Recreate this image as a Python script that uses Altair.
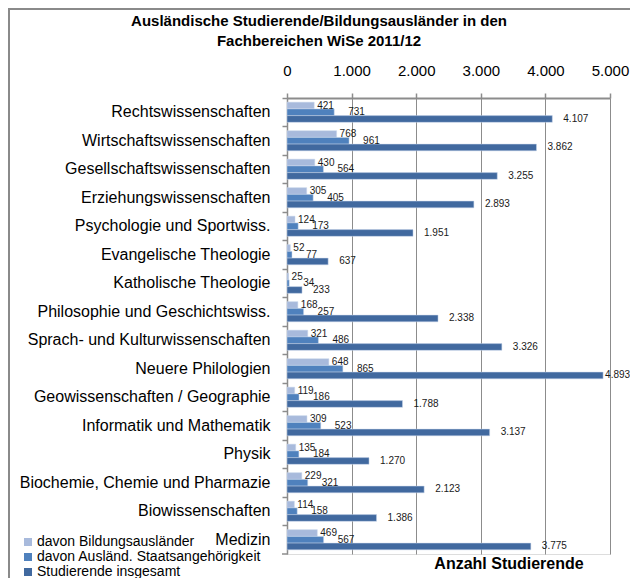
import altair as alt
import pandas as pd

categories = [
    "Rechtswissenschaften", "Wirtschaftswissenschaften", "Gesellschaftswissenschaften",
    "Erziehungswissenschaften", "Psychologie und Sportwiss.", "Evangelische Theologie",
    "Katholische Theologie", "Philosophie und Geschichtswiss.", "Sprach- und Kulturwissenschaften",
    "Neuere Philologien", "Geowissenschaften / Geographie", "Informatik und Mathematik",
    "Physik", "Biochemie, Chemie und Pharmazie", "Biowissenschaften", "Medizin",
]
bildungsauslaender = [421, 768, 430, 305, 124, 52, 25, 168, 321, 648, 119, 309, 135, 229, 114, 469]
staatsangehoerigkeit = [731, 961, 564, 405, 173, 77, 34, 257, 486, 865, 186, 523, 184, 321, 158, 567]
insgesamt = [4107, 3862, 3255, 2893, 1951, 637, 233, 2338, 3326, 4893, 1788, 3137, 1270, 2123, 1386, 3775]

series = ["davon Bildungsausländer", "davon Ausländ. Staatsangehörigkeit", "Studierende insgesamt"]
colors = ["#A8BADC", "#4F81BD", "#41699F"]
ticks = [0, 1000, 2000, 3000, 4000, 5000]

title_lines = ["Ausländische Studierende/Bildungsausländer in den", "Fachbereichen WiSe 2011/12"]
x_title = "Anzahl Studierende"

rows = []
for s, vals in zip(series, [bildungsauslaender, staatsangehoerigkeit, insgesamt]):
    for c, v in zip(categories, vals):
        rows.append({"cat": c, "series": s, "value": v})
df = pd.DataFrame(rows)

FONT = "Liberation Sans"
GRID = "#8C8C8C"
PLOT_H = 456

base = alt.Chart(df).transform_calculate(
    label="replace(format(datum.value, ','), ',', '.')"
)

y_enc = alt.Y(
    "cat:N", sort=categories, title=None,
    scale=alt.Scale(paddingInner=0, paddingOuter=0),
    axis=alt.Axis(
        labelFontSize=16, labelFont=FONT, labelColor="#000000", labelPadding=12,
        domainColor=GRID, domainWidth=1.5, tickColor=GRID, tickSize=5, tickWidth=1.5,
        bandPosition=0, labelLimit=400,
    ),
)
yoff_enc = alt.YOffset("series:N", sort=series,
                       scale=alt.Scale(paddingInner=0, paddingOuter=0.62))
x_enc = alt.X(
    "value:Q", title=None,
    scale=alt.Scale(domain=[0, 5000], nice=False),
    axis=alt.Axis(
        orient="top", values=ticks, grid=True, gridColor=GRID, gridWidth=1,
        domainColor=GRID, domainWidth=2, tickColor=GRID, tickSize=5, tickWidth=1.5,
        labelFontSize=15, labelFont=FONT, labelColor="#000000", labelPadding=15,
        labelFlush=False, labelOverlap=False,
        labelExpr="replace(format(datum.value, ','), ',', '.')",
    ),
)

bars = base.mark_bar(stroke="#C9D6EA", strokeWidth=0.5).encode(
    x=x_enc,
    y=y_enc,
    yOffset=yoff_enc,
    color=alt.Color(
        "series:N",
        scale=alt.Scale(domain=series, range=colors),
        legend=alt.Legend(
            title=None, orient="none", legendX=-266, legendY=437,
            symbolType="square", symbolSize=64, symbolStrokeWidth=0,
            labelFontSize=14, labelFont=FONT, labelColor="#000000",
            rowPadding=1, padding=0, labelOffset=2, labelLimit=400,
        ),
    ),
)


def value_labels(flt, dx):
    return base.transform_filter(flt).mark_text(
        align="left", baseline="middle", dx=dx,
        fontSize=10, font=FONT, color="#1A1A1A",
    ).encode(
        x="value:Q",
        y=alt.Y("cat:N", sort=categories),
        yOffset=alt.YOffset("series:N", sort=series),
        text="label:N",
    )


labels = [
    value_labels(alt.datum.series == series[0], 3),
    value_labels(alt.datum.series == series[1], 14),
    value_labels((alt.datum.series == series[2]) & (alt.datum.value < 4500), 11),
    value_labels((alt.datum.series == series[2]) & (alt.datum.value >= 4500), 2),
]

one = pd.DataFrame({"a": [0]})
title1 = alt.Chart(one).mark_text(
    align="center", baseline="middle", fontSize=15, fontWeight="bold", font=FONT, color="#000000"
).encode(x=alt.value(32), y=alt.value(-77), text=alt.value(title_lines[0]))
title2 = alt.Chart(one).mark_text(
    align="center", baseline="middle", fontSize=15, fontWeight="bold", font=FONT, color="#000000"
).encode(x=alt.value(32), y=alt.value(-57), text=alt.value(title_lines[1]))
x_lab = alt.Chart(one).mark_text(
    align="center", baseline="middle", fontSize=16, fontWeight="bold", font=FONT, color="#000000"
).encode(x=alt.value(222), y=alt.value(466), text=alt.value(x_title))

border_top = alt.Chart(one).mark_rule(color="#8A8A8A", strokeWidth=2).encode(
    x=alt.value(-279), x2=alt.value(360), y=alt.value(-89)
)
border_left = alt.Chart(one).mark_rule(color="#8A8A8A", strokeWidth=2).encode(
    x=alt.value(-278), y=alt.value(-90), y2=alt.value(490)
)
bottom_tick = alt.Chart(one).mark_rule(color=GRID, strokeWidth=1.5).encode(
    x=alt.value(-5), x2=alt.value(0), y=alt.value(PLOT_H)
)

chart = alt.layer(bars, *labels, title1, title2, x_lab, border_top, border_left, bottom_tick).properties(
    width=323,
    height=PLOT_H,
    padding={"left": 279, "top": 90, "right": 20, "bottom": 24},
    autosize=alt.AutoSizeParams(type="none"),
).configure_view(stroke=None).configure(background="#FFFFFF")

chart.save("out.html", embed_options={"renderer": "svg", "actions": False})
